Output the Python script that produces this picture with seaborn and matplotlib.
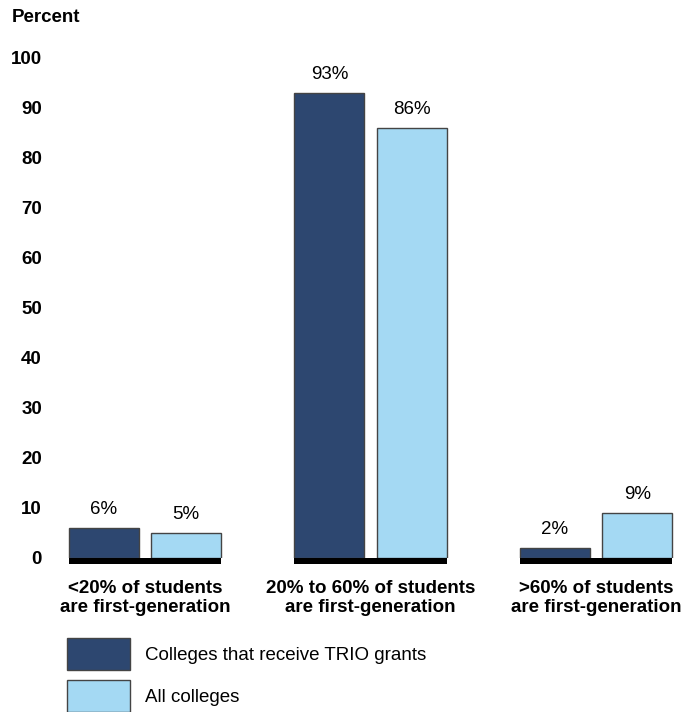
import matplotlib
matplotlib.use("Agg")
import matplotlib.pyplot as plt
from matplotlib.patches import Rectangle, Patch
import seaborn as sns
import pandas as pd

# Share of colleges by first-generation student percentage
categories = [
    "<20% of students\nare first-generation",
    "20% to 60% of students\nare first-generation",
    ">60% of students\nare first-generation",
]
series = ["Colleges that receive TRIO grants", "All colleges"]
trio_values = [6, 93, 2]
all_values = [5, 86, 9]
yticks = list(range(0, 101, 10))

dark = "#2d4770"
light = "#a4d9f3"
edge = "#444444"
fs = 13.5

df = pd.DataFrame({
    "category": categories * 2,
    "series": [series[0]] * len(categories) + [series[1]] * len(categories),
    "value": trio_values + all_values,
})

sns.set_theme(style="white")
plt.rcParams["font.family"] = ["Liberation Sans", "DejaVu Sans"]
plt.rcParams["text.color"] = "black"
plt.rcParams["xtick.color"] = "black"
plt.rcParams["ytick.color"] = "black"

fig = plt.figure(figsize=(6.85, 7.12), dpi=100)
ax = fig.add_axes([60 / 685, 154 / 712, 620 / 685, 500 / 712])

sns.barplot(data=df, x="category", y="value", hue="series",
            palette=[dark, light], saturation=1, width=0.73, gap=0.15,
            edgecolor=edge, linewidth=1, ax=ax, legend=False)

ax.set_xlim(-0.377, 2.372)
ax.set_ylim(0, 100)
ax.set_yticks(yticks)
ax.set_yticklabels([str(t) for t in yticks], fontweight="bold", fontsize=fs)
ax.tick_params(axis="y", length=0, pad=13)
ax.tick_params(axis="x", length=0, pad=16)
for lbl in ax.get_xticklabels():
    lbl.set_fontweight("bold")
    lbl.set_fontsize(fs)
    lbl.set_linespacing(1.12)
ax.set_xlabel("")
ax.set_ylabel("")
for s in ax.spines.values():
    s.set_visible(False)

# value labels above each bar
for cont, vals in zip(ax.containers, [trio_values, all_values]):
    ax.bar_label(cont, labels=[f"{v}%" for v in vals], padding=7, fontsize=fs)

# black baseline under each group
c0, c1 = ax.containers[0], ax.containers[1]
for i in range(len(categories)):
    left = c0[i].get_x()
    right = c1[i].get_x() + c1[i].get_width()
    ax.add_patch(Rectangle((left, -1.1), right - left, 1.1, facecolor="black",
                           edgecolor="none", clip_on=False, zorder=5))

fig.text(12 / 685, 1 - 17 / 712, "Percent", fontweight="bold", fontsize=fs,
         va="center", ha="left")

handles = [Patch(facecolor=dark, edgecolor=edge, linewidth=1),
           Patch(facecolor=light, edgecolor=edge, linewidth=1)]
fig.legend(handles, series, loc="upper left",
           bbox_to_anchor=(67 / 685, 1 - 638 / 712), frameon=False,
           handlelength=3.36, handleheight=2.25, fontsize=fs,
           labelspacing=0.53, handletextpad=0.8, borderpad=0,
           borderaxespad=0)

fig.savefig("out.png", dpi=100)
